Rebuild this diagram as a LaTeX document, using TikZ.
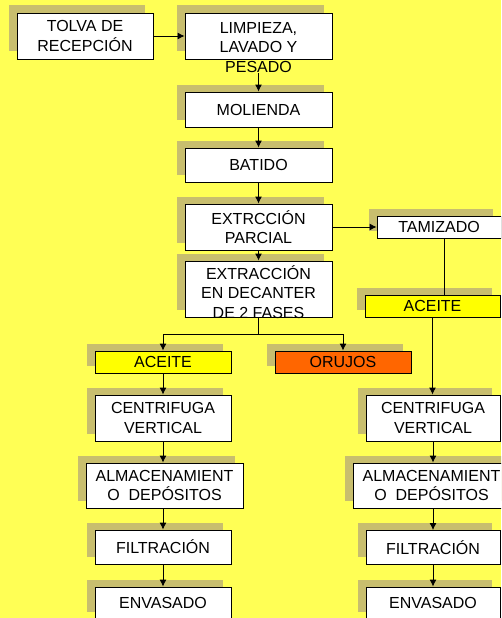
\documentclass[tikz,border=0pt]{standalone}
\usepackage{fontspec}
\setmainfont{Liberation Sans}
\usetikzlibrary{shadows,arrows.meta,calc}
\definecolor{bg}{RGB}{255,255,85}
\definecolor{shad}{RGB}{200,190,110}
\definecolor{orj}{RGB}{255,102,0}
\definecolor{yel}{RGB}{255,255,0}
\tikzset{
 box/.style={draw=black, line width=0.9pt, fill=white, inner sep=0pt, align=center,
   font=\fontsize{16}{19.5}\selectfont,
   general shadow={fill=shad, shadow xshift=-8pt, shadow yshift=7.5pt}},
 txt/.style={inner sep=0pt, align=center, font=\fontsize{16}{19.5}\selectfont},
 conn/.style={draw=black, line width=0.9pt},
 arr/.style={conn, -{Latex[length=7pt,width=7pt]}},
}
\begin{document}
\begin{tikzpicture}[x=1pt,y=-1pt]
\useasboundingbox (0,0) rectangle (501,618);
\fill[bg] (0,0) rectangle (501,618);
\clip (0,0) rectangle (501,618);
% boxes
\node[box, minimum width=136pt, minimum height=46pt] (tolva) at (85,36) {TOLVA DE\\RECEPCIÓN};
\node[box, minimum width=147pt, minimum height=46pt] (limp) at (258.5,36) {};
\node[box, minimum width=147pt, minimum height=35pt] (mol) at (258.5,109.5) {MOLIENDA};
\node[box, minimum width=147pt, minimum height=34pt] (bat) at (258.5,165) {BATIDO};
\node[box, minimum width=147pt, minimum height=46pt] (parc) at (258.5,227) {EXTRCCIÓN\\PARCIAL};
\node[box, minimum width=147pt, minimum height=56pt] (dec) at (258.5,289) {};
\node[box, minimum width=124pt, minimum height=22pt] (tam) at (439,227) {TAMIZADO};
\node[box, fill=yel, minimum width=135pt, minimum height=22pt] (aceR) at (432.5,306) {ACEITE};
\node[box, fill=yel, minimum width=136pt, minimum height=22pt] (aceL) at (163,362) {ACEITE};
\node[box, fill=orj, minimum width=136pt, minimum height=22pt] (oru) at (343,362) {ORUJOS};
\node[box, minimum width=136pt, minimum height=46pt] (cenL) at (163,418) {CENTRIFUGA\\VERTICAL};
\node[box, minimum width=134pt, minimum height=46pt] (cenR) at (433,418) {CENTRIFUGA\\VERTICAL};
\node[box, minimum width=157pt, minimum height=45pt] (almL) at (164.5,485.5) {ALMACENAMIENT\\O\ \ DEPÓSITOS};
\node[box, minimum width=157pt, minimum height=45pt] (almR) at (431.5,485.5) {ALMACENAMIENT\\O\ \ DEPÓSITOS};
\node[box, minimum width=136pt, minimum height=34pt] (filL) at (163,547) {FILTRACIÓN};
\node[box, minimum width=134pt, minimum height=34pt] (filR) at (433,547.5) {FILTRACIÓN};
\node[box, minimum width=136pt, minimum height=32pt] (envL) at (163,603) {ENVASADO};
\node[box, minimum width=134pt, minimum height=32pt] (envR) at (433,603) {ENVASADO};
% overflowing texts
\node[txt] (limptxt) at (258.5,47.5) {LIMPIEZA,\\LAVADO Y\\PESADO};
\node[txt] (dectxt) at (258.5,292) {EXTRACCIÓN\\EN DECANTER\\DE 2 FASES};
\draw[conn] (dec.south west) -- (dec.south east);
% connectors
\draw[arr] (tolva) -- (limp);
\draw[arr, shorten <=14pt] (limp.south) -- (mol.north);
\draw[arr] (mol) -- (bat);
\draw[arr] (bat) -- (parc);
\draw[arr] (parc) -- (dec);
\draw[arr] (parc) -- (tam);
\draw[conn] ([xshift=5pt]tam.south) -- ([xshift=5pt]tam.south |- aceR.north);
\draw[arr] (aceR.south) -- (aceR.south |- cenR.north);
\draw[arr] (cenR.south) -- (cenR.south |- almR.north);
\draw[arr] (cenR.south |- almR.south) -- (filR.north);
\draw[arr] (filR) -- (envR);
\coordinate (split) at (258.5,334);
\draw[conn] (dec.south) -- (split);
\draw[arr] (split) -| (aceL.north);
\draw[arr] (split) -| (oru.north);
\draw[arr] (aceL) -- (cenL);
\draw[arr] (cenL.south) -- (cenL.south |- almL.north);
\draw[arr] (cenL.south |- almL.south) -- (filL.north);
\draw[arr] (filL) -- (envL);
\end{tikzpicture}
\end{document}
